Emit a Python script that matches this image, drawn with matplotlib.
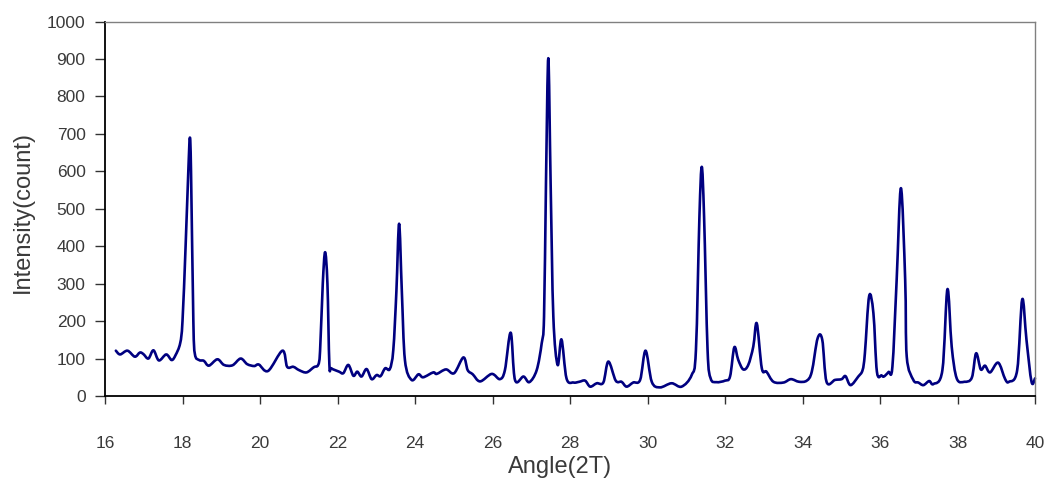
import matplotlib
matplotlib.use("Agg")
import matplotlib.pyplot as plt
from matplotlib.path import Path
from matplotlib.patches import PathPatch
import numpy as np

# 2-theta angle (degrees)
angle = [16.28, 16.39, 16.58, 16.77, 16.90, 16.99, 17.12, 17.25, 17.39, 17.58,
         17.72, 17.82, 17.94, 18.00, 18.08, 18.15, 18.19, 18.22, 18.28, 18.32,
         18.43, 18.55, 18.68, 18.90, 19.07, 19.29, 19.50, 19.67, 19.85, 19.97,
         20.21, 20.58, 20.70, 20.86, 21.01, 21.20, 21.39, 21.50, 21.55, 21.62,
         21.68, 21.74, 21.79, 21.84, 22.04, 22.15, 22.28, 22.41, 22.51, 22.62,
         22.75, 22.88, 23.01, 23.11, 23.23, 23.35, 23.44, 23.52, 23.59, 23.66,
         23.74, 23.91, 24.09, 24.21, 24.47, 24.56, 24.80, 25.01, 25.25, 25.36,
         25.49, 25.68, 25.98, 26.19, 26.32, 26.47, 26.58, 26.80, 26.95, 27.14,
         27.27, 27.33, 27.38, 27.44, 27.50, 27.57, 27.68, 27.78, 27.91, 28.09,
         28.24, 28.39, 28.52, 28.69, 28.86, 28.99, 29.18, 29.33, 29.46, 29.63,
         29.81, 29.95, 30.11, 30.32, 30.62, 30.88, 31.14, 31.25, 31.34, 31.40,
         31.46, 31.55, 31.63, 31.78, 32.00, 32.13, 32.24, 32.34, 32.47, 32.60,
         32.73, 32.82, 32.95, 33.07, 33.25, 33.51, 33.70, 33.91, 34.11, 34.24,
         34.39, 34.51, 34.62, 34.84, 35.01, 35.11, 35.24, 35.44, 35.55, 35.61,
         35.72, 35.83, 35.92, 36.04, 36.10, 36.22, 36.32, 36.43, 36.54, 36.65,
         36.69, 36.86, 36.99, 37.12, 37.27, 37.38, 37.61, 37.74, 37.85, 37.98,
         38.18, 38.37, 38.48, 38.60, 38.71, 38.84, 39.05, 39.23, 39.33, 39.54,
         39.67, 39.78, 39.91, 40.00]

# intensity (counts)
intensity = [121, 111, 121, 105, 116, 112, 100, 122, 95, 111,
             96, 109, 141, 200, 400, 600, 690, 600, 200, 112,
             96, 94, 81, 98, 83, 82, 100, 85, 80, 84,
             67, 121, 78, 78, 69, 63, 77, 83, 120, 300,
             384, 300, 85, 74, 65, 61, 83, 54, 65, 52,
             72, 45, 56, 53, 74, 72, 123, 280, 460, 280,
             96, 43, 58, 50, 63, 59, 71, 61, 103, 69,
             58, 39, 59, 45, 69, 169, 43, 52, 37, 69,
             141, 212, 568, 902, 568, 212, 83, 151, 47, 36,
             38, 41, 25, 34, 36, 92, 41, 38, 25, 36,
             43, 121, 38, 23, 34, 25, 56, 123, 479, 612,
             479, 123, 47, 37, 41, 52, 130, 97, 71, 83,
             132, 194, 74, 65, 38, 36, 45, 38, 41, 65,
             154, 150, 38, 43, 45, 53, 29, 52, 69, 114,
             267, 221, 65, 55, 52, 64, 78, 310, 555, 310,
             105, 43, 36, 29, 40, 32, 69, 285, 132, 47,
             38, 49, 114, 71, 81, 63, 89, 45, 38, 69,
             258, 150, 38, 47]

x_ticks = [16, 18, 20, 22, 24, 26, 28, 30, 32, 34, 36, 38, 40]
y_ticks = [0, 100, 200, 300, 400, 500, 600, 700, 800, 900, 1000]

plt.rcParams['font.family'] = ['Liberation Sans', 'DejaVu Sans']

fig = plt.figure(figsize=(10.45, 4.83), dpi=100)
ax = fig.add_axes([105 / 1045, 87 / 483, 930 / 1045, 374.5 / 483])

ax.set_xlim(16, 40)
ax.set_ylim(0, 1000)

# smoothed line (like a spreadsheet "smoothed line"): cubic Bezier segments
# through the data points, built in display space and drawn by matplotlib.
pts = ax.transData.transform(np.column_stack([angle, intensity]))
t = 0.5 / 3.0
verts = [tuple(pts[0])]
codes = [Path.MOVETO]
n = len(pts)
for i in range(n - 1):
    p0 = pts[i - 1] if i > 0 else pts[i]
    p1 = pts[i]
    p2 = pts[i + 1]
    p3 = pts[i + 2] if i + 2 < n else pts[i + 1]
    c1 = p1 + (p2 - p0) * t
    c2 = p2 - (p3 - p1) * t
    verts += [tuple(c1), tuple(c2), tuple(p2)]
    codes += [Path.CURVE4, Path.CURVE4, Path.CURVE4]
curve = PathPatch(Path(verts, codes), facecolor='none', edgecolor='#000080',
                  linewidth=1.9, joinstyle='round', capstyle='round',
                  transform=None, clip_on=False)
ax.add_artist(curve)

ax.set_xticks(x_ticks)
ax.set_yticks(y_ticks)
ax.set_xticklabels([str(v) for v in x_ticks])
ax.set_yticklabels([str(v) for v in y_ticks])

for s in ['top', 'right']:
    ax.spines[s].set_color('#808080')
    ax.spines[s].set_linewidth(1.0)
for s in ['left', 'bottom']:
    ax.spines[s].set_color('#000000')
    ax.spines[s].set_linewidth(1.3)

ax.tick_params(axis='x', direction='out', length=6, width=1.0, color='#333333',
               pad=23, labelsize=12.5, labelcolor='#3a3a3a')
ax.tick_params(axis='y', direction='out', length=7, width=1.0, color='#333333',
               pad=7, labelsize=12.5, labelcolor='#3a3a3a')

xl = ax.set_xlabel('Angle(2T)', fontsize=17, color='#3a3a3a')
xl.set_va('center')
ax.xaxis.set_label_coords(0.489, -0.19)
yl = ax.set_ylabel('Intensity(count)', fontsize=17, color='#3a3a3a')
yl.set_va('center')
ax.yaxis.set_label_coords(-0.088, 0.49)

fig.savefig('out.png', dpi=100)
